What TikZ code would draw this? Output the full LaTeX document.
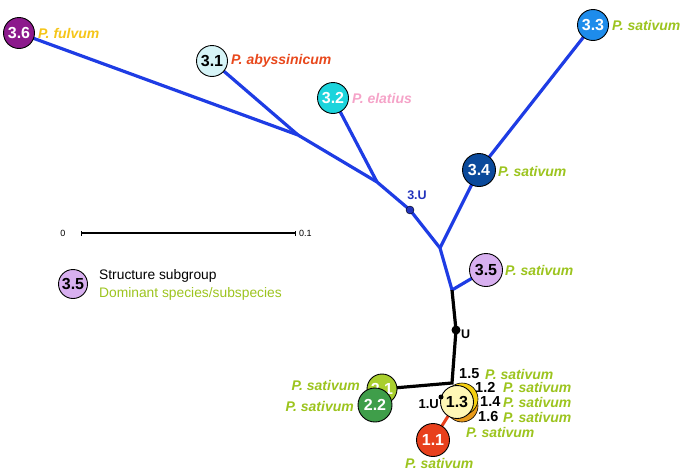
\documentclass[tikz,border=0pt]{standalone}
\usepackage{fontspec}
\setmainfont{Liberation Sans}
\usetikzlibrary{backgrounds}
\definecolor{treeblue}{RGB}{30,60,228}
\definecolor{ygreen}{RGB}{156,196,30}
\definecolor{c36}{RGB}{140,26,140}
\definecolor{c31}{RGB}{214,244,247}
\definecolor{c32}{RGB}{28,212,220}
\definecolor{c33}{RGB}{30,140,235}
\definecolor{c34}{RGB}{11,74,155}
\definecolor{c35}{RGB}{216,176,240}
\definecolor{cfulv}{RGB}{245,197,24}
\definecolor{cabys}{RGB}{232,72,28}
\definecolor{celat}{RGB}{245,163,200}
\definecolor{c3U}{RGB}{34,51,187}
\definecolor{c21}{RGB}{169,207,46}
\definecolor{c22}{RGB}{63,158,74}
\definecolor{c11}{RGB}{232,64,28}
\definecolor{c13}{RGB}{255,247,181}
\definecolor{c13y}{RGB}{245,207,16}
\definecolor{c13o}{RGB}{232,154,26}
\begin{document}
\begin{tikzpicture}[x=1pt,y=-1pt,
  grp/.style={circle,draw=black,line width=0.9pt,minimum size=31pt,inner sep=0pt,
    font=\fontsize{16}{16}\selectfont\bfseries},
  spec/.style={anchor=west,inner sep=0pt,font=\fontsize{14}{14}\selectfont\bfseries\itshape},
  blu/.style={draw=treeblue,line width=3.2pt},
  blk/.style={draw=black,line width=3.2pt},
  num/.style={inner sep=0pt,font=\fontsize{14.5}{14.5}\selectfont\bfseries}]
\useasboundingbox (0,0) rectangle (685,474);
% junctions
\coordinate (A) at (298,135);
\coordinate (B) at (377,182);
\coordinate (C) at (440,248);
\coordinate (D) at (452,290);
\coordinate (E) at (452,383);
% group circles
\node[grp,fill=c36,text=white] (n36) at (19,33) {3.6};
\node[grp,fill=c31] (n31) at (212,61) {3.1};
\node[grp,fill=c32,text=white] (n32) at (333,98) {3.2};
\node[grp,fill=c33,text=white] (n33) at (593,25) {3.3};
\node[grp,fill=c34,text=white,minimum size=33pt] (n34) at (479,170) {3.4};
\node[grp,fill=c35,minimum size=33pt] (n35) at (486,270) {3.5};
\node[circle,draw=black,fill=c3U,minimum size=8pt,inner sep=0pt] (n3U) at (410,210) {};
\node[circle,fill=black,minimum size=9pt,inner sep=0pt] (nU) at (456,330) {};
% species labels
\node[spec,text=cfulv] (l36) at (38,33) {P. fulvum};
\node[spec,text=cabys] (l31) at (231,61) {P. abyssinicum};
\node[spec,text=celat] (l32) at (352,98) {P. elatius};
\node[spec,text=ygreen] (l33) at (612,25) {P. sativum};
\node[spec,text=ygreen] (l34) at (498,171) {P. sativum};
\node[spec,text=ygreen] (l35) at (505,270) {P. sativum};
\node[inner sep=0pt,text=c3U,font=\fontsize{12.5}{12.5}\selectfont\bfseries] (t3U) at (417,195) {3.U};
\node[inner sep=0pt,font=\fontsize{12.5}{12.5}\selectfont\bfseries,anchor=west] (tU) at (461,334) {U};
% bottom cluster
\node[circle,draw=black,line width=0.6pt,fill=c13o,minimum size=32pt,inner sep=0pt] (n16) at (462,406) {};
\node[circle,draw=black,line width=0.6pt,fill=c13y,minimum size=32pt,inner sep=0pt] (n12) at (462,399) {};
\node[grp,fill=c13,minimum size=33pt] (n13) at (457,402) {1.3};
\node[circle,fill=black,minimum size=5pt,inner sep=0pt] (n1U) at (441,397) {};
\node[num,font=\fontsize{13}{13}\selectfont\bfseries,anchor=east] (t1U) at (439,404) {1.U};
\node[grp,fill=c11,text=white,minimum size=33pt] (n11) at (433,440) {1.1};
\node[grp,fill=c21,text=white,minimum size=30pt] (n21) at (382,389) {2.1};
\node[grp,fill=c22,text=white,minimum size=34pt] (n22) at (375,405) {2.2};
\node[num,anchor=west] (t15) at (459,374) {1.5};
\node[spec,text=ygreen] (l15) at (485,374) {P. sativum};
\node[num,anchor=west] (t12) at (475,387) {1.2};
\node[spec,text=ygreen] (l12) at (503,387) {P. sativum};
\node[num,anchor=west] (t14) at (480,402) {1.4};
\node[spec,text=ygreen] (l14) at (503,402) {P. sativum};
\node[num,anchor=west] (t16) at (478,417) {1.6};
\node[spec,text=ygreen] (l16) at (503,417) {P. sativum};
\node[spec,text=ygreen] (l13) at (466,432) {P. sativum};
\node[spec,text=ygreen] (l11) at (405,463) {P. sativum};
\node[spec,text=ygreen,anchor=east] (l21) at (360,385) {P. sativum};
\node[spec,text=ygreen,anchor=east] (l22) at (354,406) {P. sativum};
% scale bar
\node[inner sep=0pt,font=\fontsize{9}{9}\selectfont] (s0) at (63,233) {0};
\node[inner sep=0pt,font=\fontsize{9}{9}\selectfont,anchor=west] (s1) at (299,233) {0.1};
\coordinate (sa) at (81,233);
\coordinate (sb) at (295,233);
\draw[line width=1.2pt] (sa) -- (sb);
\draw[line width=0.7pt] ([yshift=-2.5pt]sa) -- ([yshift=2.5pt]sa) ([yshift=-2.5pt]sb) -- ([yshift=2.5pt]sb);
% legend
\node[grp,fill=c35,minimum size=29pt] (leg) at (73,284) {3.5};
\node[anchor=west,inner sep=0pt,font=\fontsize{13.8}{13.8}\selectfont] (lg1) at (99,276) {Structure subgroup};
\node[anchor=west,inner sep=0pt,text=ygreen,font=\fontsize{13.8}{13.8}\selectfont] (lg2) at (99,294) {Dominant species/subspecies};
% edges
\begin{scope}[on background layer]
\draw[blu] (n36.center) -- (A) -- (B) -- (n3U.center) -- (C) -- (D);
\draw[blu] (n31.center) -- (A);
\draw[blu] (n32.center) -- (B);
\draw[blu] (C) -- (n34.center) -- (n33.center);
\draw[blu] (D) -- (n35.center);
\draw[blk] (D) -- (nU.center) -- (E) -- (n21.center);
\draw[draw=c11,line width=3pt] (n13.center) -- (n11.center);
\end{scope}
\end{tikzpicture}
\end{document}
